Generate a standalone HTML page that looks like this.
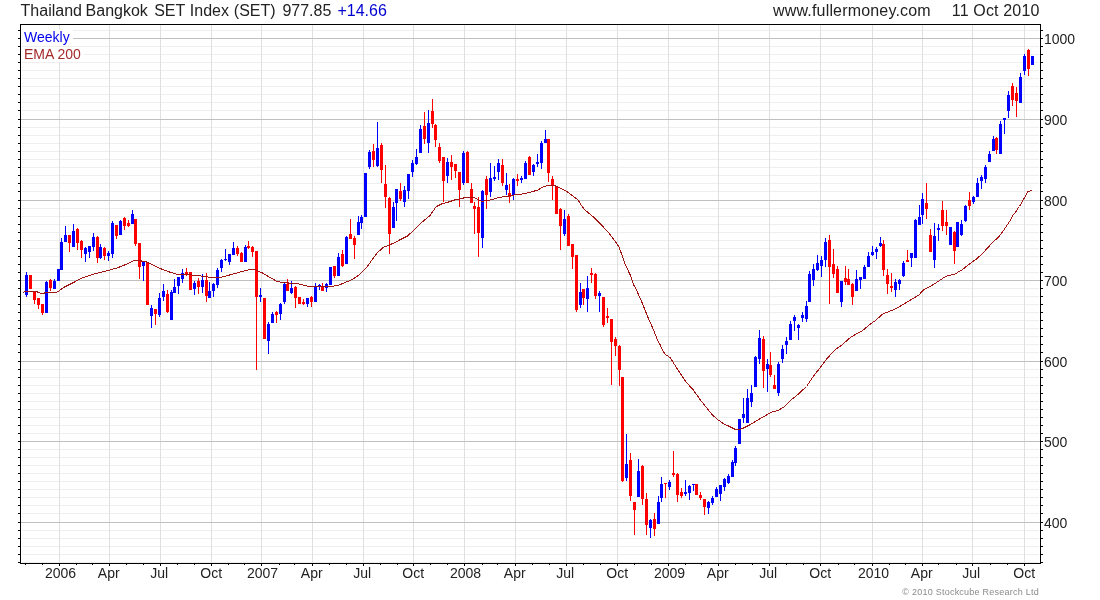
<!DOCTYPE html><html><head><meta charset="utf-8"><style>
html,body{margin:0;padding:0;background:#fff;}body{width:1100px;height:600px;position:relative;overflow:hidden;font-family:"Liberation Sans",sans-serif;color:#222;}
.t{position:absolute;white-space:pre;line-height:1;}
.ti{font-size:16px;top:3px;}
.ax{font-size:14px;}
.xl{font-size:14px;top:566px;transform:translateX(-50%);}
</style></head><body>
<svg width="1100" height="600" viewBox="0 0 1100 600" style="position:absolute;left:0;top:0" shape-rendering="crispEdges">
<rect x="22" y="30" width="1017" height="1" fill="#eeeeee"/><rect x="22" y="46" width="1017" height="1" fill="#eeeeee"/><rect x="22" y="54" width="1017" height="1" fill="#eeeeee"/><rect x="22" y="62" width="1017" height="1" fill="#eeeeee"/><rect x="22" y="70" width="1017" height="1" fill="#eeeeee"/><rect x="22" y="78" width="1017" height="1" fill="#eeeeee"/><rect x="22" y="86" width="1017" height="1" fill="#eeeeee"/><rect x="22" y="94" width="1017" height="1" fill="#eeeeee"/><rect x="22" y="102" width="1017" height="1" fill="#eeeeee"/><rect x="22" y="110" width="1017" height="1" fill="#eeeeee"/><rect x="22" y="127" width="1017" height="1" fill="#eeeeee"/><rect x="22" y="135" width="1017" height="1" fill="#eeeeee"/><rect x="22" y="143" width="1017" height="1" fill="#eeeeee"/><rect x="22" y="151" width="1017" height="1" fill="#eeeeee"/><rect x="22" y="159" width="1017" height="1" fill="#eeeeee"/><rect x="22" y="167" width="1017" height="1" fill="#eeeeee"/><rect x="22" y="175" width="1017" height="1" fill="#eeeeee"/><rect x="22" y="183" width="1017" height="1" fill="#eeeeee"/><rect x="22" y="191" width="1017" height="1" fill="#eeeeee"/><rect x="22" y="208" width="1017" height="1" fill="#eeeeee"/><rect x="22" y="216" width="1017" height="1" fill="#eeeeee"/><rect x="22" y="224" width="1017" height="1" fill="#eeeeee"/><rect x="22" y="232" width="1017" height="1" fill="#eeeeee"/><rect x="22" y="240" width="1017" height="1" fill="#eeeeee"/><rect x="22" y="248" width="1017" height="1" fill="#eeeeee"/><rect x="22" y="256" width="1017" height="1" fill="#eeeeee"/><rect x="22" y="264" width="1017" height="1" fill="#eeeeee"/><rect x="22" y="272" width="1017" height="1" fill="#eeeeee"/><rect x="22" y="288" width="1017" height="1" fill="#eeeeee"/><rect x="22" y="296" width="1017" height="1" fill="#eeeeee"/><rect x="22" y="304" width="1017" height="1" fill="#eeeeee"/><rect x="22" y="312" width="1017" height="1" fill="#eeeeee"/><rect x="22" y="320" width="1017" height="1" fill="#eeeeee"/><rect x="22" y="328" width="1017" height="1" fill="#eeeeee"/><rect x="22" y="336" width="1017" height="1" fill="#eeeeee"/><rect x="22" y="344" width="1017" height="1" fill="#eeeeee"/><rect x="22" y="352" width="1017" height="1" fill="#eeeeee"/><rect x="22" y="369" width="1017" height="1" fill="#eeeeee"/><rect x="22" y="377" width="1017" height="1" fill="#eeeeee"/><rect x="22" y="385" width="1017" height="1" fill="#eeeeee"/><rect x="22" y="393" width="1017" height="1" fill="#eeeeee"/><rect x="22" y="401" width="1017" height="1" fill="#eeeeee"/><rect x="22" y="409" width="1017" height="1" fill="#eeeeee"/><rect x="22" y="417" width="1017" height="1" fill="#eeeeee"/><rect x="22" y="425" width="1017" height="1" fill="#eeeeee"/><rect x="22" y="433" width="1017" height="1" fill="#eeeeee"/><rect x="22" y="449" width="1017" height="1" fill="#eeeeee"/><rect x="22" y="457" width="1017" height="1" fill="#eeeeee"/><rect x="22" y="465" width="1017" height="1" fill="#eeeeee"/><rect x="22" y="473" width="1017" height="1" fill="#eeeeee"/><rect x="22" y="481" width="1017" height="1" fill="#eeeeee"/><rect x="22" y="489" width="1017" height="1" fill="#eeeeee"/><rect x="22" y="497" width="1017" height="1" fill="#eeeeee"/><rect x="22" y="505" width="1017" height="1" fill="#eeeeee"/><rect x="22" y="513" width="1017" height="1" fill="#eeeeee"/><rect x="22" y="530" width="1017" height="1" fill="#eeeeee"/><rect x="22" y="538" width="1017" height="1" fill="#eeeeee"/><rect x="22" y="546" width="1017" height="1" fill="#eeeeee"/><rect x="22" y="554" width="1017" height="1" fill="#eeeeee"/><rect x="22" y="562" width="1017" height="1" fill="#eeeeee"/>
<rect x="59" y="25" width="1" height="538" fill="#e0e0e0"/><rect x="109" y="25" width="1" height="538" fill="#e0e0e0"/><rect x="160" y="25" width="1" height="538" fill="#e0e0e0"/><rect x="211" y="25" width="1" height="538" fill="#e0e0e0"/><rect x="261" y="25" width="1" height="538" fill="#e0e0e0"/><rect x="312" y="25" width="1" height="538" fill="#e0e0e0"/><rect x="363" y="25" width="1" height="538" fill="#e0e0e0"/><rect x="413" y="25" width="1" height="538" fill="#e0e0e0"/><rect x="464" y="25" width="1" height="538" fill="#e0e0e0"/><rect x="515" y="25" width="1" height="538" fill="#e0e0e0"/><rect x="566" y="25" width="1" height="538" fill="#e0e0e0"/><rect x="617" y="25" width="1" height="538" fill="#e0e0e0"/><rect x="668" y="25" width="1" height="538" fill="#e0e0e0"/><rect x="718" y="25" width="1" height="538" fill="#e0e0e0"/><rect x="769" y="25" width="1" height="538" fill="#e0e0e0"/><rect x="820" y="25" width="1" height="538" fill="#e0e0e0"/><rect x="872" y="25" width="1" height="538" fill="#e0e0e0"/><rect x="922" y="25" width="1" height="538" fill="#e0e0e0"/><rect x="972" y="25" width="1" height="538" fill="#e0e0e0"/><rect x="1024" y="25" width="1" height="538" fill="#e0e0e0"/>
<rect x="21" y="38" width="1019" height="1" fill="#c0c0c0"/><rect x="21" y="119" width="1019" height="1" fill="#c0c0c0"/><rect x="21" y="200" width="1019" height="1" fill="#c0c0c0"/><rect x="21" y="280" width="1019" height="1" fill="#c0c0c0"/><rect x="21" y="361" width="1019" height="1" fill="#c0c0c0"/><rect x="21" y="441" width="1019" height="1" fill="#c0c0c0"/><rect x="21" y="522" width="1019" height="1" fill="#c0c0c0"/>
<rect x="21" y="29" width="52" height="17" fill="#fff"/>
<rect x="21" y="47" width="63" height="15" fill="#fff"/>
<rect x="26" y="272" width="1" height="25" fill="#0000ff"/>
<rect x="25" y="275" width="3" height="20" fill="#0000ff"/>
<rect x="30" y="275" width="1" height="14" fill="#ff0000"/>
<rect x="29" y="275" width="3" height="14" fill="#ff0000"/>
<rect x="34" y="292" width="1" height="12" fill="#ff0000"/>
<rect x="33" y="292" width="3" height="8" fill="#ff0000"/>
<rect x="38" y="298" width="1" height="11" fill="#ff0000"/>
<rect x="37" y="298" width="3" height="7" fill="#ff0000"/>
<rect x="42" y="304" width="1" height="11" fill="#ff0000"/>
<rect x="41" y="304" width="3" height="9" fill="#ff0000"/>
<rect x="46" y="281" width="1" height="32" fill="#0000ff"/>
<rect x="45" y="282" width="3" height="31" fill="#0000ff"/>
<rect x="50" y="279" width="1" height="12" fill="#ff0000"/>
<rect x="49" y="280" width="3" height="8" fill="#ff0000"/>
<rect x="54" y="279" width="1" height="10" fill="#0000ff"/>
<rect x="53" y="281" width="3" height="8" fill="#0000ff"/>
<rect x="58" y="269" width="1" height="12" fill="#0000ff"/>
<rect x="57" y="269" width="3" height="12" fill="#0000ff"/>
<rect x="61" y="238" width="1" height="32" fill="#0000ff"/>
<rect x="60" y="242" width="3" height="28" fill="#0000ff"/>
<rect x="65" y="226" width="1" height="16" fill="#0000ff"/>
<rect x="64" y="235" width="3" height="7" fill="#0000ff"/>
<rect x="69" y="235" width="1" height="17" fill="#ff0000"/>
<rect x="68" y="235" width="3" height="8" fill="#ff0000"/>
<rect x="73" y="224" width="1" height="23" fill="#0000ff"/>
<rect x="72" y="231" width="3" height="16" fill="#0000ff"/>
<rect x="77" y="228" width="1" height="22" fill="#ff0000"/>
<rect x="76" y="229" width="3" height="14" fill="#ff0000"/>
<rect x="81" y="240" width="1" height="18" fill="#ff0000"/>
<rect x="80" y="241" width="3" height="9" fill="#ff0000"/>
<rect x="85" y="247" width="1" height="15" fill="#0000ff"/>
<rect x="84" y="248" width="3" height="6" fill="#0000ff"/>
<rect x="89" y="246" width="1" height="12" fill="#0000ff"/>
<rect x="88" y="246" width="3" height="6" fill="#0000ff"/>
<rect x="93" y="233" width="1" height="18" fill="#0000ff"/>
<rect x="92" y="237" width="3" height="10" fill="#0000ff"/>
<rect x="97" y="236" width="1" height="27" fill="#ff0000"/>
<rect x="96" y="237" width="3" height="21" fill="#ff0000"/>
<rect x="100" y="244" width="1" height="15" fill="#0000ff"/>
<rect x="99" y="247" width="3" height="11" fill="#0000ff"/>
<rect x="104" y="247" width="1" height="13" fill="#ff0000"/>
<rect x="103" y="248" width="3" height="8" fill="#ff0000"/>
<rect x="108" y="251" width="1" height="10" fill="#0000ff"/>
<rect x="107" y="253" width="3" height="3" fill="#0000ff"/>
<rect x="112" y="221" width="1" height="37" fill="#0000ff"/>
<rect x="111" y="223" width="3" height="31" fill="#0000ff"/>
<rect x="116" y="225" width="1" height="14" fill="#ff0000"/>
<rect x="115" y="225" width="3" height="11" fill="#ff0000"/>
<rect x="120" y="220" width="1" height="15" fill="#0000ff"/>
<rect x="119" y="221" width="3" height="14" fill="#0000ff"/>
<rect x="124" y="217" width="1" height="13" fill="#ff0000"/>
<rect x="123" y="218" width="3" height="8" fill="#ff0000"/>
<rect x="128" y="220" width="1" height="7" fill="#ff0000"/>
<rect x="127" y="223" width="3" height="3" fill="#ff0000"/>
<rect x="132" y="210" width="1" height="14" fill="#0000ff"/>
<rect x="131" y="214" width="3" height="10" fill="#0000ff"/>
<rect x="135" y="219" width="1" height="27" fill="#ff0000"/>
<rect x="134" y="219" width="3" height="25" fill="#ff0000"/>
<rect x="139" y="243" width="1" height="36" fill="#ff0000"/>
<rect x="138" y="243" width="3" height="24" fill="#ff0000"/>
<rect x="143" y="262" width="1" height="19" fill="#0000ff"/>
<rect x="142" y="262" width="3" height="4" fill="#0000ff"/>
<rect x="147" y="263" width="1" height="42" fill="#ff0000"/>
<rect x="146" y="263" width="3" height="42" fill="#ff0000"/>
<rect x="151" y="305" width="1" height="23" fill="#0000ff"/>
<rect x="150" y="308" width="3" height="8" fill="#0000ff"/>
<rect x="155" y="309" width="1" height="16" fill="#ff0000"/>
<rect x="154" y="309" width="3" height="5" fill="#ff0000"/>
<rect x="159" y="293" width="1" height="24" fill="#0000ff"/>
<rect x="158" y="298" width="3" height="17" fill="#0000ff"/>
<rect x="163" y="284" width="1" height="17" fill="#0000ff"/>
<rect x="162" y="291" width="3" height="6" fill="#0000ff"/>
<rect x="167" y="290" width="1" height="23" fill="#ff0000"/>
<rect x="166" y="294" width="3" height="18" fill="#ff0000"/>
<rect x="171" y="290" width="1" height="30" fill="#0000ff"/>
<rect x="170" y="292" width="3" height="28" fill="#0000ff"/>
<rect x="174" y="279" width="1" height="14" fill="#0000ff"/>
<rect x="173" y="287" width="3" height="6" fill="#0000ff"/>
<rect x="178" y="277" width="1" height="17" fill="#0000ff"/>
<rect x="177" y="277" width="3" height="9" fill="#0000ff"/>
<rect x="182" y="269" width="1" height="14" fill="#0000ff"/>
<rect x="181" y="273" width="3" height="6" fill="#0000ff"/>
<rect x="186" y="268" width="1" height="8" fill="#ff0000"/>
<rect x="185" y="272" width="3" height="3" fill="#ff0000"/>
<rect x="190" y="272" width="1" height="18" fill="#ff0000"/>
<rect x="189" y="272" width="3" height="18" fill="#ff0000"/>
<rect x="194" y="281" width="1" height="14" fill="#0000ff"/>
<rect x="193" y="283" width="3" height="6" fill="#0000ff"/>
<rect x="198" y="278" width="1" height="16" fill="#ff0000"/>
<rect x="197" y="281" width="3" height="6" fill="#ff0000"/>
<rect x="202" y="274" width="1" height="19" fill="#0000ff"/>
<rect x="201" y="280" width="3" height="7" fill="#0000ff"/>
<rect x="206" y="273" width="1" height="29" fill="#ff0000"/>
<rect x="205" y="280" width="3" height="16" fill="#ff0000"/>
<rect x="209" y="282" width="1" height="16" fill="#0000ff"/>
<rect x="208" y="291" width="3" height="7" fill="#0000ff"/>
<rect x="213" y="283" width="1" height="14" fill="#0000ff"/>
<rect x="212" y="284" width="3" height="7" fill="#0000ff"/>
<rect x="217" y="268" width="1" height="20" fill="#0000ff"/>
<rect x="216" y="270" width="3" height="15" fill="#0000ff"/>
<rect x="221" y="259" width="1" height="13" fill="#0000ff"/>
<rect x="220" y="260" width="3" height="8" fill="#0000ff"/>
<rect x="225" y="249" width="1" height="12" fill="#0000ff"/>
<rect x="224" y="259" width="3" height="1" fill="#0000ff"/>
<rect x="229" y="254" width="1" height="11" fill="#0000ff"/>
<rect x="228" y="254" width="3" height="8" fill="#0000ff"/>
<rect x="233" y="242" width="1" height="13" fill="#0000ff"/>
<rect x="232" y="248" width="3" height="7" fill="#0000ff"/>
<rect x="237" y="246" width="1" height="10" fill="#ff0000"/>
<rect x="236" y="248" width="3" height="6" fill="#ff0000"/>
<rect x="241" y="252" width="1" height="10" fill="#ff0000"/>
<rect x="240" y="253" width="3" height="9" fill="#ff0000"/>
<rect x="245" y="245" width="1" height="17" fill="#0000ff"/>
<rect x="244" y="247" width="3" height="15" fill="#0000ff"/>
<rect x="248" y="241" width="1" height="8" fill="#ff0000"/>
<rect x="247" y="246" width="3" height="2" fill="#ff0000"/>
<rect x="252" y="246" width="1" height="11" fill="#ff0000"/>
<rect x="251" y="247" width="3" height="5" fill="#ff0000"/>
<rect x="256" y="251" width="1" height="119" fill="#ff0000"/>
<rect x="255" y="251" width="3" height="46" fill="#ff0000"/>
<rect x="260" y="288" width="1" height="14" fill="#0000ff"/>
<rect x="259" y="295" width="3" height="2" fill="#0000ff"/>
<rect x="264" y="298" width="1" height="41" fill="#ff0000"/>
<rect x="263" y="298" width="3" height="41" fill="#ff0000"/>
<rect x="268" y="322" width="1" height="32" fill="#0000ff"/>
<rect x="267" y="324" width="3" height="17" fill="#0000ff"/>
<rect x="272" y="312" width="1" height="11" fill="#0000ff"/>
<rect x="271" y="314" width="3" height="9" fill="#0000ff"/>
<rect x="276" y="311" width="1" height="12" fill="#ff0000"/>
<rect x="275" y="312" width="3" height="3" fill="#ff0000"/>
<rect x="280" y="303" width="1" height="17" fill="#0000ff"/>
<rect x="279" y="304" width="3" height="10" fill="#0000ff"/>
<rect x="284" y="283" width="1" height="21" fill="#0000ff"/>
<rect x="283" y="284" width="3" height="18" fill="#0000ff"/>
<rect x="287" y="279" width="1" height="12" fill="#ff0000"/>
<rect x="286" y="284" width="3" height="7" fill="#ff0000"/>
<rect x="291" y="281" width="1" height="13" fill="#0000ff"/>
<rect x="290" y="288" width="3" height="5" fill="#0000ff"/>
<rect x="295" y="286" width="1" height="22" fill="#ff0000"/>
<rect x="294" y="287" width="3" height="11" fill="#ff0000"/>
<rect x="299" y="297" width="1" height="7" fill="#ff0000"/>
<rect x="298" y="297" width="3" height="7" fill="#ff0000"/>
<rect x="303" y="299" width="1" height="6" fill="#ff0000"/>
<rect x="302" y="302" width="3" height="2" fill="#ff0000"/>
<rect x="307" y="298" width="1" height="9" fill="#0000ff"/>
<rect x="306" y="298" width="3" height="6" fill="#0000ff"/>
<rect x="311" y="296" width="1" height="11" fill="#ff0000"/>
<rect x="310" y="297" width="3" height="5" fill="#ff0000"/>
<rect x="315" y="283" width="1" height="19" fill="#0000ff"/>
<rect x="314" y="286" width="3" height="16" fill="#0000ff"/>
<rect x="319" y="284" width="1" height="6" fill="#0000ff"/>
<rect x="318" y="285" width="3" height="2" fill="#0000ff"/>
<rect x="322" y="283" width="1" height="8" fill="#ff0000"/>
<rect x="321" y="286" width="3" height="5" fill="#ff0000"/>
<rect x="326" y="283" width="1" height="9" fill="#0000ff"/>
<rect x="325" y="284" width="3" height="4" fill="#0000ff"/>
<rect x="330" y="267" width="1" height="18" fill="#0000ff"/>
<rect x="329" y="267" width="3" height="18" fill="#0000ff"/>
<rect x="334" y="266" width="1" height="12" fill="#ff0000"/>
<rect x="333" y="266" width="3" height="10" fill="#ff0000"/>
<rect x="338" y="253" width="1" height="23" fill="#0000ff"/>
<rect x="337" y="257" width="3" height="19" fill="#0000ff"/>
<rect x="342" y="250" width="1" height="17" fill="#ff0000"/>
<rect x="341" y="254" width="3" height="12" fill="#ff0000"/>
<rect x="346" y="236" width="1" height="28" fill="#0000ff"/>
<rect x="345" y="237" width="3" height="27" fill="#0000ff"/>
<rect x="350" y="219" width="1" height="20" fill="#ff0000"/>
<rect x="349" y="234" width="3" height="5" fill="#ff0000"/>
<rect x="354" y="236" width="1" height="23" fill="#ff0000"/>
<rect x="353" y="238" width="3" height="7" fill="#ff0000"/>
<rect x="358" y="216" width="1" height="19" fill="#0000ff"/>
<rect x="357" y="222" width="3" height="13" fill="#0000ff"/>
<rect x="361" y="215" width="1" height="14" fill="#0000ff"/>
<rect x="360" y="217" width="3" height="6" fill="#0000ff"/>
<rect x="365" y="173" width="1" height="44" fill="#0000ff"/>
<rect x="364" y="173" width="3" height="44" fill="#0000ff"/>
<rect x="369" y="150" width="1" height="19" fill="#0000ff"/>
<rect x="368" y="152" width="3" height="15" fill="#0000ff"/>
<rect x="373" y="144" width="1" height="23" fill="#ff0000"/>
<rect x="372" y="151" width="3" height="9" fill="#ff0000"/>
<rect x="377" y="122" width="1" height="45" fill="#0000ff"/>
<rect x="376" y="148" width="3" height="18" fill="#0000ff"/>
<rect x="381" y="143" width="1" height="40" fill="#ff0000"/>
<rect x="380" y="145" width="3" height="25" fill="#ff0000"/>
<rect x="385" y="165" width="1" height="43" fill="#ff0000"/>
<rect x="384" y="184" width="3" height="13" fill="#ff0000"/>
<rect x="389" y="197" width="1" height="57" fill="#ff0000"/>
<rect x="388" y="198" width="3" height="36" fill="#ff0000"/>
<rect x="393" y="202" width="1" height="26" fill="#0000ff"/>
<rect x="392" y="207" width="3" height="21" fill="#0000ff"/>
<rect x="396" y="189" width="1" height="32" fill="#0000ff"/>
<rect x="395" y="189" width="3" height="14" fill="#0000ff"/>
<rect x="400" y="183" width="1" height="18" fill="#ff0000"/>
<rect x="399" y="191" width="3" height="8" fill="#ff0000"/>
<rect x="404" y="186" width="1" height="21" fill="#0000ff"/>
<rect x="403" y="190" width="3" height="12" fill="#0000ff"/>
<rect x="408" y="174" width="1" height="25" fill="#0000ff"/>
<rect x="407" y="174" width="3" height="17" fill="#0000ff"/>
<rect x="412" y="160" width="1" height="17" fill="#0000ff"/>
<rect x="411" y="163" width="3" height="9" fill="#0000ff"/>
<rect x="416" y="149" width="1" height="16" fill="#0000ff"/>
<rect x="415" y="157" width="3" height="7" fill="#0000ff"/>
<rect x="420" y="125" width="1" height="28" fill="#0000ff"/>
<rect x="419" y="129" width="3" height="24" fill="#0000ff"/>
<rect x="424" y="112" width="1" height="32" fill="#ff0000"/>
<rect x="423" y="126" width="3" height="13" fill="#ff0000"/>
<rect x="428" y="110" width="1" height="43" fill="#0000ff"/>
<rect x="427" y="123" width="3" height="20" fill="#0000ff"/>
<rect x="432" y="99" width="1" height="29" fill="#ff0000"/>
<rect x="431" y="111" width="3" height="13" fill="#ff0000"/>
<rect x="435" y="124" width="1" height="23" fill="#ff0000"/>
<rect x="434" y="125" width="3" height="15" fill="#ff0000"/>
<rect x="439" y="143" width="1" height="20" fill="#ff0000"/>
<rect x="438" y="147" width="3" height="14" fill="#ff0000"/>
<rect x="443" y="157" width="1" height="45" fill="#ff0000"/>
<rect x="442" y="157" width="3" height="24" fill="#ff0000"/>
<rect x="447" y="158" width="1" height="25" fill="#0000ff"/>
<rect x="446" y="162" width="3" height="14" fill="#0000ff"/>
<rect x="451" y="155" width="1" height="25" fill="#ff0000"/>
<rect x="450" y="162" width="3" height="5" fill="#ff0000"/>
<rect x="455" y="164" width="1" height="14" fill="#ff0000"/>
<rect x="454" y="164" width="3" height="7" fill="#ff0000"/>
<rect x="459" y="172" width="1" height="35" fill="#ff0000"/>
<rect x="458" y="172" width="3" height="18" fill="#ff0000"/>
<rect x="463" y="151" width="1" height="34" fill="#0000ff"/>
<rect x="462" y="153" width="3" height="30" fill="#0000ff"/>
<rect x="467" y="151" width="1" height="32" fill="#ff0000"/>
<rect x="466" y="152" width="3" height="31" fill="#ff0000"/>
<rect x="471" y="183" width="1" height="20" fill="#ff0000"/>
<rect x="470" y="189" width="3" height="14" fill="#ff0000"/>
<rect x="474" y="202" width="1" height="32" fill="#ff0000"/>
<rect x="473" y="206" width="3" height="3" fill="#ff0000"/>
<rect x="478" y="197" width="1" height="60" fill="#ff0000"/>
<rect x="477" y="207" width="3" height="26" fill="#ff0000"/>
<rect x="482" y="190" width="1" height="58" fill="#0000ff"/>
<rect x="481" y="191" width="3" height="47" fill="#0000ff"/>
<rect x="486" y="176" width="1" height="33" fill="#ff0000"/>
<rect x="485" y="179" width="3" height="16" fill="#ff0000"/>
<rect x="490" y="163" width="1" height="34" fill="#0000ff"/>
<rect x="489" y="178" width="3" height="14" fill="#0000ff"/>
<rect x="494" y="166" width="1" height="15" fill="#0000ff"/>
<rect x="493" y="177" width="3" height="2" fill="#0000ff"/>
<rect x="498" y="159" width="1" height="21" fill="#0000ff"/>
<rect x="497" y="163" width="3" height="9" fill="#0000ff"/>
<rect x="502" y="159" width="1" height="27" fill="#ff0000"/>
<rect x="501" y="165" width="3" height="18" fill="#ff0000"/>
<rect x="506" y="173" width="1" height="22" fill="#0000ff"/>
<rect x="505" y="185" width="3" height="5" fill="#0000ff"/>
<rect x="509" y="184" width="1" height="19" fill="#ff0000"/>
<rect x="508" y="193" width="3" height="4" fill="#ff0000"/>
<rect x="513" y="178" width="1" height="22" fill="#0000ff"/>
<rect x="512" y="179" width="3" height="16" fill="#0000ff"/>
<rect x="517" y="174" width="1" height="12" fill="#ff0000"/>
<rect x="516" y="179" width="3" height="2" fill="#ff0000"/>
<rect x="521" y="176" width="1" height="7" fill="#0000ff"/>
<rect x="520" y="178" width="3" height="2" fill="#0000ff"/>
<rect x="525" y="161" width="1" height="18" fill="#0000ff"/>
<rect x="524" y="163" width="3" height="16" fill="#0000ff"/>
<rect x="529" y="156" width="1" height="19" fill="#ff0000"/>
<rect x="528" y="157" width="3" height="18" fill="#ff0000"/>
<rect x="533" y="164" width="1" height="12" fill="#0000ff"/>
<rect x="532" y="165" width="3" height="7" fill="#0000ff"/>
<rect x="537" y="154" width="1" height="13" fill="#0000ff"/>
<rect x="536" y="162" width="3" height="2" fill="#0000ff"/>
<rect x="541" y="141" width="1" height="28" fill="#0000ff"/>
<rect x="540" y="143" width="3" height="20" fill="#0000ff"/>
<rect x="545" y="130" width="1" height="13" fill="#0000ff"/>
<rect x="544" y="139" width="3" height="4" fill="#0000ff"/>
<rect x="548" y="139" width="1" height="43" fill="#ff0000"/>
<rect x="547" y="139" width="3" height="34" fill="#ff0000"/>
<rect x="552" y="176" width="1" height="24" fill="#ff0000"/>
<rect x="551" y="179" width="3" height="7" fill="#ff0000"/>
<rect x="556" y="186" width="1" height="28" fill="#ff0000"/>
<rect x="555" y="186" width="3" height="28" fill="#ff0000"/>
<rect x="560" y="208" width="1" height="42" fill="#ff0000"/>
<rect x="559" y="209" width="3" height="17" fill="#ff0000"/>
<rect x="564" y="210" width="1" height="26" fill="#0000ff"/>
<rect x="563" y="219" width="3" height="15" fill="#0000ff"/>
<rect x="568" y="214" width="1" height="32" fill="#ff0000"/>
<rect x="567" y="216" width="3" height="30" fill="#ff0000"/>
<rect x="572" y="244" width="1" height="25" fill="#ff0000"/>
<rect x="571" y="244" width="3" height="13" fill="#ff0000"/>
<rect x="576" y="255" width="1" height="57" fill="#ff0000"/>
<rect x="575" y="255" width="3" height="55" fill="#ff0000"/>
<rect x="580" y="283" width="1" height="25" fill="#0000ff"/>
<rect x="579" y="292" width="3" height="13" fill="#0000ff"/>
<rect x="583" y="289" width="1" height="16" fill="#ff0000"/>
<rect x="582" y="289" width="3" height="9" fill="#ff0000"/>
<rect x="587" y="276" width="1" height="36" fill="#0000ff"/>
<rect x="586" y="288" width="3" height="11" fill="#0000ff"/>
<rect x="591" y="268" width="1" height="15" fill="#ff0000"/>
<rect x="590" y="273" width="3" height="2" fill="#ff0000"/>
<rect x="595" y="273" width="1" height="26" fill="#ff0000"/>
<rect x="594" y="274" width="3" height="22" fill="#ff0000"/>
<rect x="599" y="291" width="1" height="21" fill="#0000ff"/>
<rect x="598" y="293" width="3" height="3" fill="#0000ff"/>
<rect x="603" y="297" width="1" height="30" fill="#ff0000"/>
<rect x="602" y="297" width="3" height="28" fill="#ff0000"/>
<rect x="607" y="308" width="1" height="15" fill="#ff0000"/>
<rect x="606" y="316" width="3" height="2" fill="#ff0000"/>
<rect x="611" y="319" width="1" height="66" fill="#ff0000"/>
<rect x="610" y="319" width="3" height="23" fill="#ff0000"/>
<rect x="615" y="337" width="1" height="19" fill="#ff0000"/>
<rect x="614" y="339" width="3" height="7" fill="#ff0000"/>
<rect x="619" y="345" width="1" height="41" fill="#ff0000"/>
<rect x="618" y="346" width="3" height="24" fill="#ff0000"/>
<rect x="622" y="377" width="1" height="105" fill="#ff0000"/>
<rect x="621" y="377" width="3" height="104" fill="#ff0000"/>
<rect x="626" y="434" width="1" height="47" fill="#0000ff"/>
<rect x="625" y="464" width="3" height="14" fill="#0000ff"/>
<rect x="630" y="453" width="1" height="48" fill="#ff0000"/>
<rect x="629" y="460" width="3" height="36" fill="#ff0000"/>
<rect x="634" y="502" width="1" height="33" fill="#ff0000"/>
<rect x="633" y="502" width="3" height="8" fill="#ff0000"/>
<rect x="638" y="459" width="1" height="38" fill="#0000ff"/>
<rect x="637" y="471" width="3" height="26" fill="#0000ff"/>
<rect x="642" y="465" width="1" height="40" fill="#ff0000"/>
<rect x="641" y="466" width="3" height="33" fill="#ff0000"/>
<rect x="646" y="493" width="1" height="42" fill="#ff0000"/>
<rect x="645" y="499" width="3" height="26" fill="#ff0000"/>
<rect x="650" y="519" width="1" height="19" fill="#0000ff"/>
<rect x="649" y="520" width="3" height="8" fill="#0000ff"/>
<rect x="654" y="513" width="1" height="23" fill="#ff0000"/>
<rect x="653" y="519" width="3" height="10" fill="#ff0000"/>
<rect x="658" y="496" width="1" height="28" fill="#0000ff"/>
<rect x="657" y="502" width="3" height="22" fill="#0000ff"/>
<rect x="661" y="477" width="1" height="25" fill="#0000ff"/>
<rect x="660" y="484" width="3" height="14" fill="#0000ff"/>
<rect x="665" y="483" width="1" height="15" fill="#ff0000"/>
<rect x="664" y="483" width="3" height="1" fill="#ff0000"/>
<rect x="669" y="480" width="1" height="10" fill="#0000ff"/>
<rect x="668" y="482" width="3" height="5" fill="#0000ff"/>
<rect x="673" y="451" width="1" height="26" fill="#ff0000"/>
<rect x="672" y="473" width="3" height="2" fill="#ff0000"/>
<rect x="677" y="473" width="1" height="29" fill="#ff0000"/>
<rect x="676" y="474" width="3" height="21" fill="#ff0000"/>
<rect x="681" y="488" width="1" height="10" fill="#ff0000"/>
<rect x="680" y="492" width="3" height="4" fill="#ff0000"/>
<rect x="685" y="480" width="1" height="16" fill="#0000ff"/>
<rect x="684" y="492" width="3" height="2" fill="#0000ff"/>
<rect x="689" y="485" width="1" height="15" fill="#0000ff"/>
<rect x="688" y="486" width="3" height="7" fill="#0000ff"/>
<rect x="693" y="484" width="1" height="7" fill="#0000ff"/>
<rect x="692" y="484" width="3" height="1" fill="#0000ff"/>
<rect x="696" y="484" width="1" height="11" fill="#ff0000"/>
<rect x="695" y="484" width="3" height="11" fill="#ff0000"/>
<rect x="700" y="492" width="1" height="8" fill="#ff0000"/>
<rect x="699" y="495" width="3" height="3" fill="#ff0000"/>
<rect x="704" y="499" width="1" height="16" fill="#ff0000"/>
<rect x="703" y="499" width="3" height="8" fill="#ff0000"/>
<rect x="708" y="501" width="1" height="13" fill="#0000ff"/>
<rect x="707" y="502" width="3" height="6" fill="#0000ff"/>
<rect x="712" y="496" width="1" height="9" fill="#0000ff"/>
<rect x="711" y="498" width="3" height="5" fill="#0000ff"/>
<rect x="716" y="487" width="1" height="10" fill="#0000ff"/>
<rect x="715" y="489" width="3" height="8" fill="#0000ff"/>
<rect x="720" y="485" width="1" height="16" fill="#0000ff"/>
<rect x="719" y="485" width="3" height="9" fill="#0000ff"/>
<rect x="724" y="478" width="1" height="13" fill="#0000ff"/>
<rect x="723" y="479" width="3" height="8" fill="#0000ff"/>
<rect x="728" y="474" width="1" height="10" fill="#0000ff"/>
<rect x="727" y="476" width="3" height="7" fill="#0000ff"/>
<rect x="732" y="460" width="1" height="17" fill="#0000ff"/>
<rect x="731" y="462" width="3" height="15" fill="#0000ff"/>
<rect x="735" y="446" width="1" height="20" fill="#0000ff"/>
<rect x="734" y="448" width="3" height="15" fill="#0000ff"/>
<rect x="739" y="419" width="1" height="25" fill="#0000ff"/>
<rect x="738" y="419" width="3" height="25" fill="#0000ff"/>
<rect x="743" y="398" width="1" height="25" fill="#0000ff"/>
<rect x="742" y="414" width="3" height="4" fill="#0000ff"/>
<rect x="747" y="389" width="1" height="34" fill="#0000ff"/>
<rect x="746" y="398" width="3" height="25" fill="#0000ff"/>
<rect x="751" y="385" width="1" height="22" fill="#0000ff"/>
<rect x="750" y="393" width="3" height="9" fill="#0000ff"/>
<rect x="755" y="356" width="1" height="31" fill="#0000ff"/>
<rect x="754" y="357" width="3" height="30" fill="#0000ff"/>
<rect x="759" y="330" width="1" height="34" fill="#0000ff"/>
<rect x="758" y="338" width="3" height="21" fill="#0000ff"/>
<rect x="763" y="336" width="1" height="52" fill="#ff0000"/>
<rect x="762" y="339" width="3" height="32" fill="#ff0000"/>
<rect x="767" y="359" width="1" height="33" fill="#0000ff"/>
<rect x="766" y="364" width="3" height="5" fill="#0000ff"/>
<rect x="770" y="352" width="1" height="25" fill="#ff0000"/>
<rect x="769" y="365" width="3" height="10" fill="#ff0000"/>
<rect x="774" y="375" width="1" height="14" fill="#ff0000"/>
<rect x="773" y="385" width="3" height="4" fill="#ff0000"/>
<rect x="778" y="362" width="1" height="34" fill="#0000ff"/>
<rect x="777" y="364" width="3" height="29" fill="#0000ff"/>
<rect x="782" y="345" width="1" height="18" fill="#0000ff"/>
<rect x="781" y="349" width="3" height="10" fill="#0000ff"/>
<rect x="786" y="337" width="1" height="17" fill="#0000ff"/>
<rect x="785" y="341" width="3" height="4" fill="#0000ff"/>
<rect x="790" y="321" width="1" height="19" fill="#0000ff"/>
<rect x="789" y="324" width="3" height="16" fill="#0000ff"/>
<rect x="794" y="315" width="1" height="16" fill="#0000ff"/>
<rect x="793" y="317" width="3" height="4" fill="#0000ff"/>
<rect x="798" y="324" width="1" height="16" fill="#0000ff"/>
<rect x="797" y="325" width="3" height="3" fill="#0000ff"/>
<rect x="802" y="312" width="1" height="10" fill="#0000ff"/>
<rect x="801" y="315" width="3" height="3" fill="#0000ff"/>
<rect x="806" y="301" width="1" height="21" fill="#0000ff"/>
<rect x="805" y="306" width="3" height="13" fill="#0000ff"/>
<rect x="809" y="271" width="1" height="31" fill="#0000ff"/>
<rect x="808" y="274" width="3" height="28" fill="#0000ff"/>
<rect x="813" y="264" width="1" height="22" fill="#0000ff"/>
<rect x="812" y="269" width="3" height="11" fill="#0000ff"/>
<rect x="817" y="255" width="1" height="16" fill="#0000ff"/>
<rect x="816" y="263" width="3" height="7" fill="#0000ff"/>
<rect x="821" y="256" width="1" height="21" fill="#0000ff"/>
<rect x="820" y="260" width="3" height="6" fill="#0000ff"/>
<rect x="825" y="238" width="1" height="29" fill="#0000ff"/>
<rect x="824" y="242" width="3" height="18" fill="#0000ff"/>
<rect x="829" y="235" width="1" height="69" fill="#ff0000"/>
<rect x="828" y="240" width="3" height="27" fill="#ff0000"/>
<rect x="833" y="249" width="1" height="29" fill="#ff0000"/>
<rect x="832" y="264" width="3" height="10" fill="#ff0000"/>
<rect x="837" y="266" width="1" height="27" fill="#ff0000"/>
<rect x="836" y="269" width="3" height="24" fill="#ff0000"/>
<rect x="841" y="281" width="1" height="26" fill="#0000ff"/>
<rect x="840" y="281" width="3" height="21" fill="#0000ff"/>
<rect x="845" y="266" width="1" height="19" fill="#ff0000"/>
<rect x="844" y="278" width="3" height="4" fill="#ff0000"/>
<rect x="848" y="269" width="1" height="16" fill="#ff0000"/>
<rect x="847" y="279" width="3" height="6" fill="#ff0000"/>
<rect x="852" y="283" width="1" height="22" fill="#ff0000"/>
<rect x="851" y="284" width="3" height="13" fill="#ff0000"/>
<rect x="856" y="270" width="1" height="21" fill="#0000ff"/>
<rect x="855" y="279" width="3" height="12" fill="#0000ff"/>
<rect x="860" y="277" width="1" height="12" fill="#0000ff"/>
<rect x="859" y="277" width="3" height="3" fill="#0000ff"/>
<rect x="864" y="265" width="1" height="14" fill="#0000ff"/>
<rect x="863" y="267" width="3" height="12" fill="#0000ff"/>
<rect x="868" y="252" width="1" height="15" fill="#0000ff"/>
<rect x="867" y="256" width="3" height="11" fill="#0000ff"/>
<rect x="872" y="246" width="1" height="10" fill="#0000ff"/>
<rect x="871" y="252" width="3" height="3" fill="#0000ff"/>
<rect x="876" y="247" width="1" height="12" fill="#0000ff"/>
<rect x="875" y="249" width="3" height="3" fill="#0000ff"/>
<rect x="880" y="237" width="1" height="10" fill="#0000ff"/>
<rect x="879" y="243" width="3" height="3" fill="#0000ff"/>
<rect x="883" y="240" width="1" height="36" fill="#ff0000"/>
<rect x="882" y="244" width="3" height="26" fill="#ff0000"/>
<rect x="887" y="269" width="1" height="25" fill="#ff0000"/>
<rect x="886" y="275" width="3" height="9" fill="#ff0000"/>
<rect x="891" y="273" width="1" height="19" fill="#ff0000"/>
<rect x="890" y="286" width="3" height="2" fill="#ff0000"/>
<rect x="895" y="279" width="1" height="18" fill="#0000ff"/>
<rect x="894" y="282" width="3" height="8" fill="#0000ff"/>
<rect x="899" y="279" width="1" height="11" fill="#0000ff"/>
<rect x="898" y="280" width="3" height="4" fill="#0000ff"/>
<rect x="903" y="261" width="1" height="16" fill="#0000ff"/>
<rect x="902" y="263" width="3" height="13" fill="#0000ff"/>
<rect x="907" y="250" width="1" height="12" fill="#ff0000"/>
<rect x="906" y="260" width="3" height="2" fill="#ff0000"/>
<rect x="911" y="253" width="1" height="14" fill="#0000ff"/>
<rect x="910" y="253" width="3" height="5" fill="#0000ff"/>
<rect x="915" y="219" width="1" height="39" fill="#0000ff"/>
<rect x="914" y="220" width="3" height="38" fill="#0000ff"/>
<rect x="919" y="205" width="1" height="20" fill="#0000ff"/>
<rect x="918" y="217" width="3" height="8" fill="#0000ff"/>
<rect x="922" y="193" width="1" height="31" fill="#0000ff"/>
<rect x="921" y="199" width="3" height="16" fill="#0000ff"/>
<rect x="926" y="183" width="1" height="36" fill="#ff0000"/>
<rect x="925" y="203" width="3" height="6" fill="#ff0000"/>
<rect x="930" y="229" width="1" height="23" fill="#ff0000"/>
<rect x="929" y="235" width="3" height="17" fill="#ff0000"/>
<rect x="934" y="223" width="1" height="45" fill="#0000ff"/>
<rect x="933" y="236" width="3" height="24" fill="#0000ff"/>
<rect x="938" y="224" width="1" height="17" fill="#0000ff"/>
<rect x="937" y="228" width="3" height="2" fill="#0000ff"/>
<rect x="942" y="201" width="1" height="30" fill="#ff0000"/>
<rect x="941" y="210" width="3" height="16" fill="#ff0000"/>
<rect x="946" y="210" width="1" height="25" fill="#ff0000"/>
<rect x="945" y="222" width="3" height="4" fill="#ff0000"/>
<rect x="950" y="227" width="1" height="18" fill="#0000ff"/>
<rect x="949" y="227" width="3" height="18" fill="#0000ff"/>
<rect x="954" y="231" width="1" height="33" fill="#ff0000"/>
<rect x="953" y="232" width="3" height="19" fill="#ff0000"/>
<rect x="957" y="222" width="1" height="25" fill="#0000ff"/>
<rect x="956" y="222" width="3" height="25" fill="#0000ff"/>
<rect x="961" y="220" width="1" height="16" fill="#0000ff"/>
<rect x="960" y="224" width="3" height="11" fill="#0000ff"/>
<rect x="965" y="205" width="1" height="17" fill="#0000ff"/>
<rect x="964" y="206" width="3" height="15" fill="#0000ff"/>
<rect x="969" y="192" width="1" height="18" fill="#ff0000"/>
<rect x="968" y="200" width="3" height="6" fill="#ff0000"/>
<rect x="973" y="196" width="1" height="8" fill="#0000ff"/>
<rect x="972" y="197" width="3" height="5" fill="#0000ff"/>
<rect x="977" y="178" width="1" height="19" fill="#0000ff"/>
<rect x="976" y="183" width="3" height="14" fill="#0000ff"/>
<rect x="981" y="175" width="1" height="14" fill="#0000ff"/>
<rect x="980" y="177" width="3" height="4" fill="#0000ff"/>
<rect x="985" y="165" width="1" height="18" fill="#0000ff"/>
<rect x="984" y="167" width="3" height="12" fill="#0000ff"/>
<rect x="989" y="151" width="1" height="11" fill="#0000ff"/>
<rect x="988" y="154" width="3" height="8" fill="#0000ff"/>
<rect x="993" y="136" width="1" height="15" fill="#0000ff"/>
<rect x="992" y="139" width="3" height="12" fill="#0000ff"/>
<rect x="996" y="137" width="1" height="17" fill="#ff0000"/>
<rect x="995" y="138" width="3" height="12" fill="#ff0000"/>
<rect x="1000" y="121" width="1" height="33" fill="#0000ff"/>
<rect x="999" y="124" width="3" height="30" fill="#0000ff"/>
<rect x="1004" y="118" width="1" height="16" fill="#0000ff"/>
<rect x="1003" y="118" width="3" height="2" fill="#0000ff"/>
<rect x="1008" y="91" width="1" height="27" fill="#0000ff"/>
<rect x="1007" y="95" width="3" height="16" fill="#0000ff"/>
<rect x="1012" y="83" width="1" height="23" fill="#ff0000"/>
<rect x="1011" y="86" width="3" height="14" fill="#ff0000"/>
<rect x="1016" y="87" width="1" height="30" fill="#ff0000"/>
<rect x="1015" y="93" width="3" height="8" fill="#ff0000"/>
<rect x="1020" y="73" width="1" height="30" fill="#0000ff"/>
<rect x="1019" y="77" width="3" height="26" fill="#0000ff"/>
<rect x="1024" y="54" width="1" height="21" fill="#0000ff"/>
<rect x="1023" y="56" width="3" height="15" fill="#0000ff"/>
<rect x="1028" y="49" width="1" height="27" fill="#ff0000"/>
<rect x="1027" y="50" width="3" height="19" fill="#ff0000"/>
<rect x="1032" y="56" width="1" height="9" fill="#0000ff"/>
<rect x="1031" y="56" width="3" height="9" fill="#0000ff"/>
<polyline fill="none" stroke="#a01414" stroke-width="1" points="23.2,292.6 25.0,291.5 36.4,291.5 40.6,293.3 44.2,293.3 44.8,292.6 56.2,292.6 59.2,290.8 64.0,287.2 70.0,284.2 76.0,281.2 82.0,277.9 95.0,273.8 110.0,270.0 117.5,267.8 125.0,264.8 134.0,260.7 140.0,260.7 147.5,262.2 155.0,266.2 161.0,268.8 170.0,272.2 177.5,274.5 180.0,274.5 185.0,274.5 195.0,275.2 211.5,277.5 220.5,277.5 232.5,274.2 244.5,270.8 252.0,269.2 255.0,269.7 262.5,273.0 270.0,277.5 277.5,281.7 285.0,282.8 297.0,283.5 300.0,284.3 307.5,286.2 315.0,286.8 327.0,287.0 330.0,286.5 336.0,285.8 337.5,285.8 345.0,282.4 352.5,279.5 360.0,274.2 366.0,268.2 372.0,260.0 377.5,252.5 383.5,247.2 389.5,245.0 397.5,241.2 400.0,239.8 407.5,236.0 415.0,229.2 422.5,221.8 429.8,215.8 436.0,206.8 442.0,203.8 448.0,202.2 455.5,199.7 464.5,197.8 472.0,197.3 476.5,198.5 481.0,201.2 487.0,200.8 493.0,199.2 499.0,197.3 505.0,196.7 507.5,196.2 515.0,194.8 522.5,194.0 530.0,192.2 537.5,190.2 543.5,186.8 548.0,185.3 554.0,185.4 560.0,188.0 566.0,191.0 571.5,195.0 578.0,200.0 580.5,204.0 582.5,206.8 585.0,210.0 590.0,214.2 594.0,217.5 601.5,225.0 609.0,233.2 616.5,243.0 619.5,248.2 624.0,261.0 625.5,265.0 630.0,274.5 633.8,285.0 636.0,289.0 642.0,302.5 648.0,317.5 654.0,331.0 657.5,340.0 660.0,344.5 662.0,349.0 665.0,354.2 670.2,357.7 677.0,368.5 686.0,382.0 693.5,390.2 701.0,400.8 710.0,412.0 712.5,415.0 717.5,419.5 720.0,421.0 725.0,424.8 727.5,425.5 735.0,429.2 741.0,429.2 750.0,424.8 757.5,420.2 765.0,415.8 772.0,412.0 778.0,410.5 784.0,406.8 790.0,400.8 797.5,394.8 806.5,386.5 812.5,377.5 820.0,367.8 827.5,358.0 835.0,349.8 842.5,344.5 850.0,337.8 857.5,333.2 862.0,331.0 869.5,324.7 875.5,320.5 883.0,313.8 889.0,311.5 895.0,309.2 919.0,295.0 923.5,289.8 929.5,286.8 937.0,282.2 946.0,276.2 955.0,274.0 962.5,269.5 970.0,263.5 977.5,258.2 985.0,250.8 992.5,242.5 998.5,237.2 1004.5,229.0 1010.5,220.0 1012.8,215.0 1015.0,213.2 1018.0,208.2 1019.5,206.5 1024.0,198.5 1027.8,191.8 1031.8,190.2"/>
<rect x="20" y="24" width="1021" height="1" fill="#000"/>
<rect x="20" y="563" width="1021" height="1" fill="#000"/>
<rect x="20" y="24" width="1" height="540" fill="#000"/>
<rect x="1040" y="24" width="1" height="540" fill="#000"/>
<rect x="18" y="30" width="2" height="1" fill="#000"/>
<rect x="1041" y="30" width="2" height="1" fill="#000"/>
<rect x="18" y="38" width="2" height="1" fill="#000"/>
<rect x="1041" y="38" width="2" height="1" fill="#000"/>
<rect x="18" y="46" width="2" height="1" fill="#000"/>
<rect x="1041" y="46" width="2" height="1" fill="#000"/>
<rect x="18" y="54" width="2" height="1" fill="#000"/>
<rect x="1041" y="54" width="2" height="1" fill="#000"/>
<rect x="18" y="62" width="2" height="1" fill="#000"/>
<rect x="1041" y="62" width="2" height="1" fill="#000"/>
<rect x="18" y="70" width="2" height="1" fill="#000"/>
<rect x="1041" y="70" width="2" height="1" fill="#000"/>
<rect x="18" y="78" width="2" height="1" fill="#000"/>
<rect x="1041" y="78" width="2" height="1" fill="#000"/>
<rect x="18" y="86" width="2" height="1" fill="#000"/>
<rect x="1041" y="86" width="2" height="1" fill="#000"/>
<rect x="18" y="94" width="2" height="1" fill="#000"/>
<rect x="1041" y="94" width="2" height="1" fill="#000"/>
<rect x="18" y="102" width="2" height="1" fill="#000"/>
<rect x="1041" y="102" width="2" height="1" fill="#000"/>
<rect x="18" y="110" width="2" height="1" fill="#000"/>
<rect x="1041" y="110" width="2" height="1" fill="#000"/>
<rect x="18" y="119" width="2" height="1" fill="#000"/>
<rect x="1041" y="119" width="2" height="1" fill="#000"/>
<rect x="18" y="127" width="2" height="1" fill="#000"/>
<rect x="1041" y="127" width="2" height="1" fill="#000"/>
<rect x="18" y="135" width="2" height="1" fill="#000"/>
<rect x="1041" y="135" width="2" height="1" fill="#000"/>
<rect x="18" y="143" width="2" height="1" fill="#000"/>
<rect x="1041" y="143" width="2" height="1" fill="#000"/>
<rect x="18" y="151" width="2" height="1" fill="#000"/>
<rect x="1041" y="151" width="2" height="1" fill="#000"/>
<rect x="18" y="159" width="2" height="1" fill="#000"/>
<rect x="1041" y="159" width="2" height="1" fill="#000"/>
<rect x="18" y="167" width="2" height="1" fill="#000"/>
<rect x="1041" y="167" width="2" height="1" fill="#000"/>
<rect x="18" y="175" width="2" height="1" fill="#000"/>
<rect x="1041" y="175" width="2" height="1" fill="#000"/>
<rect x="18" y="183" width="2" height="1" fill="#000"/>
<rect x="1041" y="183" width="2" height="1" fill="#000"/>
<rect x="18" y="191" width="2" height="1" fill="#000"/>
<rect x="1041" y="191" width="2" height="1" fill="#000"/>
<rect x="18" y="200" width="2" height="1" fill="#000"/>
<rect x="1041" y="200" width="2" height="1" fill="#000"/>
<rect x="18" y="208" width="2" height="1" fill="#000"/>
<rect x="1041" y="208" width="2" height="1" fill="#000"/>
<rect x="18" y="216" width="2" height="1" fill="#000"/>
<rect x="1041" y="216" width="2" height="1" fill="#000"/>
<rect x="18" y="224" width="2" height="1" fill="#000"/>
<rect x="1041" y="224" width="2" height="1" fill="#000"/>
<rect x="18" y="232" width="2" height="1" fill="#000"/>
<rect x="1041" y="232" width="2" height="1" fill="#000"/>
<rect x="18" y="240" width="2" height="1" fill="#000"/>
<rect x="1041" y="240" width="2" height="1" fill="#000"/>
<rect x="18" y="248" width="2" height="1" fill="#000"/>
<rect x="1041" y="248" width="2" height="1" fill="#000"/>
<rect x="18" y="256" width="2" height="1" fill="#000"/>
<rect x="1041" y="256" width="2" height="1" fill="#000"/>
<rect x="18" y="264" width="2" height="1" fill="#000"/>
<rect x="1041" y="264" width="2" height="1" fill="#000"/>
<rect x="18" y="272" width="2" height="1" fill="#000"/>
<rect x="1041" y="272" width="2" height="1" fill="#000"/>
<rect x="18" y="280" width="2" height="1" fill="#000"/>
<rect x="1041" y="280" width="2" height="1" fill="#000"/>
<rect x="18" y="288" width="2" height="1" fill="#000"/>
<rect x="1041" y="288" width="2" height="1" fill="#000"/>
<rect x="18" y="296" width="2" height="1" fill="#000"/>
<rect x="1041" y="296" width="2" height="1" fill="#000"/>
<rect x="18" y="304" width="2" height="1" fill="#000"/>
<rect x="1041" y="304" width="2" height="1" fill="#000"/>
<rect x="18" y="312" width="2" height="1" fill="#000"/>
<rect x="1041" y="312" width="2" height="1" fill="#000"/>
<rect x="18" y="320" width="2" height="1" fill="#000"/>
<rect x="1041" y="320" width="2" height="1" fill="#000"/>
<rect x="18" y="328" width="2" height="1" fill="#000"/>
<rect x="1041" y="328" width="2" height="1" fill="#000"/>
<rect x="18" y="336" width="2" height="1" fill="#000"/>
<rect x="1041" y="336" width="2" height="1" fill="#000"/>
<rect x="18" y="344" width="2" height="1" fill="#000"/>
<rect x="1041" y="344" width="2" height="1" fill="#000"/>
<rect x="18" y="352" width="2" height="1" fill="#000"/>
<rect x="1041" y="352" width="2" height="1" fill="#000"/>
<rect x="18" y="361" width="2" height="1" fill="#000"/>
<rect x="1041" y="361" width="2" height="1" fill="#000"/>
<rect x="18" y="369" width="2" height="1" fill="#000"/>
<rect x="1041" y="369" width="2" height="1" fill="#000"/>
<rect x="18" y="377" width="2" height="1" fill="#000"/>
<rect x="1041" y="377" width="2" height="1" fill="#000"/>
<rect x="18" y="385" width="2" height="1" fill="#000"/>
<rect x="1041" y="385" width="2" height="1" fill="#000"/>
<rect x="18" y="393" width="2" height="1" fill="#000"/>
<rect x="1041" y="393" width="2" height="1" fill="#000"/>
<rect x="18" y="401" width="2" height="1" fill="#000"/>
<rect x="1041" y="401" width="2" height="1" fill="#000"/>
<rect x="18" y="409" width="2" height="1" fill="#000"/>
<rect x="1041" y="409" width="2" height="1" fill="#000"/>
<rect x="18" y="417" width="2" height="1" fill="#000"/>
<rect x="1041" y="417" width="2" height="1" fill="#000"/>
<rect x="18" y="425" width="2" height="1" fill="#000"/>
<rect x="1041" y="425" width="2" height="1" fill="#000"/>
<rect x="18" y="433" width="2" height="1" fill="#000"/>
<rect x="1041" y="433" width="2" height="1" fill="#000"/>
<rect x="18" y="441" width="2" height="1" fill="#000"/>
<rect x="1041" y="441" width="2" height="1" fill="#000"/>
<rect x="18" y="449" width="2" height="1" fill="#000"/>
<rect x="1041" y="449" width="2" height="1" fill="#000"/>
<rect x="18" y="457" width="2" height="1" fill="#000"/>
<rect x="1041" y="457" width="2" height="1" fill="#000"/>
<rect x="18" y="465" width="2" height="1" fill="#000"/>
<rect x="1041" y="465" width="2" height="1" fill="#000"/>
<rect x="18" y="473" width="2" height="1" fill="#000"/>
<rect x="1041" y="473" width="2" height="1" fill="#000"/>
<rect x="18" y="481" width="2" height="1" fill="#000"/>
<rect x="1041" y="481" width="2" height="1" fill="#000"/>
<rect x="18" y="489" width="2" height="1" fill="#000"/>
<rect x="1041" y="489" width="2" height="1" fill="#000"/>
<rect x="18" y="497" width="2" height="1" fill="#000"/>
<rect x="1041" y="497" width="2" height="1" fill="#000"/>
<rect x="18" y="505" width="2" height="1" fill="#000"/>
<rect x="1041" y="505" width="2" height="1" fill="#000"/>
<rect x="18" y="513" width="2" height="1" fill="#000"/>
<rect x="1041" y="513" width="2" height="1" fill="#000"/>
<rect x="18" y="522" width="2" height="1" fill="#000"/>
<rect x="1041" y="522" width="2" height="1" fill="#000"/>
<rect x="18" y="530" width="2" height="1" fill="#000"/>
<rect x="1041" y="530" width="2" height="1" fill="#000"/>
<rect x="18" y="538" width="2" height="1" fill="#000"/>
<rect x="1041" y="538" width="2" height="1" fill="#000"/>
<rect x="18" y="546" width="2" height="1" fill="#000"/>
<rect x="1041" y="546" width="2" height="1" fill="#000"/>
<rect x="18" y="554" width="2" height="1" fill="#000"/>
<rect x="1041" y="554" width="2" height="1" fill="#000"/>
<rect x="18" y="562" width="2" height="1" fill="#000"/>
<rect x="1041" y="562" width="2" height="1" fill="#000"/>
<rect x="59" y="564" width="1" height="2" fill="#000"/>
<rect x="109" y="564" width="1" height="2" fill="#000"/>
<rect x="160" y="564" width="1" height="2" fill="#000"/>
<rect x="211" y="564" width="1" height="2" fill="#000"/>
<rect x="261" y="564" width="1" height="2" fill="#000"/>
<rect x="312" y="564" width="1" height="2" fill="#000"/>
<rect x="363" y="564" width="1" height="2" fill="#000"/>
<rect x="413" y="564" width="1" height="2" fill="#000"/>
<rect x="464" y="564" width="1" height="2" fill="#000"/>
<rect x="515" y="564" width="1" height="2" fill="#000"/>
<rect x="566" y="564" width="1" height="2" fill="#000"/>
<rect x="617" y="564" width="1" height="2" fill="#000"/>
<rect x="668" y="564" width="1" height="2" fill="#000"/>
<rect x="718" y="564" width="1" height="2" fill="#000"/>
<rect x="769" y="564" width="1" height="2" fill="#000"/>
<rect x="820" y="564" width="1" height="2" fill="#000"/>
<rect x="872" y="564" width="1" height="2" fill="#000"/>
<rect x="922" y="564" width="1" height="2" fill="#000"/>
<rect x="972" y="564" width="1" height="2" fill="#000"/>
<rect x="1024" y="564" width="1" height="2" fill="#000"/>
<rect x="25" y="564" width="1" height="1" fill="#000"/>
<rect x="42" y="564" width="1" height="1" fill="#000"/>
<rect x="76" y="564" width="1" height="1" fill="#000"/>
<rect x="92" y="564" width="1" height="1" fill="#000"/>
<rect x="126" y="564" width="1" height="1" fill="#000"/>
<rect x="143" y="564" width="1" height="1" fill="#000"/>
<rect x="177" y="564" width="1" height="1" fill="#000"/>
<rect x="194" y="564" width="1" height="1" fill="#000"/>
<rect x="228" y="564" width="1" height="1" fill="#000"/>
<rect x="244" y="564" width="1" height="1" fill="#000"/>
<rect x="279" y="564" width="1" height="1" fill="#000"/>
<rect x="294" y="564" width="1" height="1" fill="#000"/>
<rect x="329" y="564" width="1" height="1" fill="#000"/>
<rect x="346" y="564" width="1" height="1" fill="#000"/>
<rect x="380" y="564" width="1" height="1" fill="#000"/>
<rect x="397" y="564" width="1" height="1" fill="#000"/>
<rect x="430" y="564" width="1" height="1" fill="#000"/>
<rect x="447" y="564" width="1" height="1" fill="#000"/>
<rect x="482" y="564" width="1" height="1" fill="#000"/>
<rect x="497" y="564" width="1" height="1" fill="#000"/>
<rect x="532" y="564" width="1" height="1" fill="#000"/>
<rect x="549" y="564" width="1" height="1" fill="#000"/>
<rect x="583" y="564" width="1" height="1" fill="#000"/>
<rect x="600" y="564" width="1" height="1" fill="#000"/>
<rect x="634" y="564" width="1" height="1" fill="#000"/>
<rect x="651" y="564" width="1" height="1" fill="#000"/>
<rect x="685" y="564" width="1" height="1" fill="#000"/>
<rect x="701" y="564" width="1" height="1" fill="#000"/>
<rect x="735" y="564" width="1" height="1" fill="#000"/>
<rect x="752" y="564" width="1" height="1" fill="#000"/>
<rect x="786" y="564" width="1" height="1" fill="#000"/>
<rect x="803" y="564" width="1" height="1" fill="#000"/>
<rect x="838" y="564" width="1" height="1" fill="#000"/>
<rect x="854" y="564" width="1" height="1" fill="#000"/>
<rect x="889" y="564" width="1" height="1" fill="#000"/>
<rect x="905" y="564" width="1" height="1" fill="#000"/>
<rect x="938" y="564" width="1" height="1" fill="#000"/>
<rect x="956" y="564" width="1" height="1" fill="#000"/>
<rect x="990" y="564" width="1" height="1" fill="#000"/>
<rect x="1007" y="564" width="1" height="1" fill="#000"/>
</svg>
<div style="position:absolute;left:0;top:0;width:1100px;height:600px;will-change:transform">
<div class="t ti" style="left:20.60px;color:#222">Thailand</div>
<div class="t ti" style="left:85.60px;color:#222">Bangkok</div>
<div class="t ti" style="left:154.20px;color:#222">SET</div>
<div class="t ti" style="left:189.80px;color:#222">Index</div>
<div class="t ti" style="left:233.80px;color:#222">(SET)</div>
<div class="t ti" style="left:282.40px;color:#222">977.85</div>
<div class="t ti" style="left:337.40px;color:#0000d0">+14.66</div>
<div class="t ti" style="left:773px;letter-spacing:0.18px">www.fullermoney.com</div>
<div class="t ti" style="right:60.5px;letter-spacing:0.15px">11 Oct 2010</div>
<div class="t" style="font-size:14px;left:24px;top:30px;color:#0000ee">Weekly</div>
<div class="t" style="font-size:14px;left:24px;top:47px;color:#a52a2a">EMA 200</div>
<div class="t ax" style="left:1044px;top:31.7px">1000</div>
<div class="t ax" style="left:1044px;top:112.7px">900</div>
<div class="t ax" style="left:1044px;top:193.7px">800</div>
<div class="t ax" style="left:1044px;top:273.7px">700</div>
<div class="t ax" style="left:1044px;top:354.7px">600</div>
<div class="t ax" style="left:1044px;top:434.7px">500</div>
<div class="t ax" style="left:1044px;top:515.7px">400</div>
<div class="t xl" style="left:60.6px">2006</div>
<div class="t xl" style="left:108.7px">Apr</div>
<div class="t xl" style="left:159.2px">Jul</div>
<div class="t xl" style="left:211.2px">Oct</div>
<div class="t xl" style="left:262.6px">2007</div>
<div class="t xl" style="left:311.7px">Apr</div>
<div class="t xl" style="left:362.2px">Jul</div>
<div class="t xl" style="left:413.2px">Oct</div>
<div class="t xl" style="left:465.6px">2008</div>
<div class="t xl" style="left:514.7px">Apr</div>
<div class="t xl" style="left:565.2px">Jul</div>
<div class="t xl" style="left:617.2px">Oct</div>
<div class="t xl" style="left:669.6px">2009</div>
<div class="t xl" style="left:717.7px">Apr</div>
<div class="t xl" style="left:768.2px">Jul</div>
<div class="t xl" style="left:820.2px">Oct</div>
<div class="t xl" style="left:873.6px">2010</div>
<div class="t xl" style="left:921.7px">Apr</div>
<div class="t xl" style="left:971.2px">Jul</div>
<div class="t xl" style="left:1024.2px">Oct</div>
<div class="t" style="font-size:9px;color:#8a8a8a;right:61px;top:587.8px;letter-spacing:0.24px">© 2010 Stockcube Research Ltd</div>
</div>
</body></html>
